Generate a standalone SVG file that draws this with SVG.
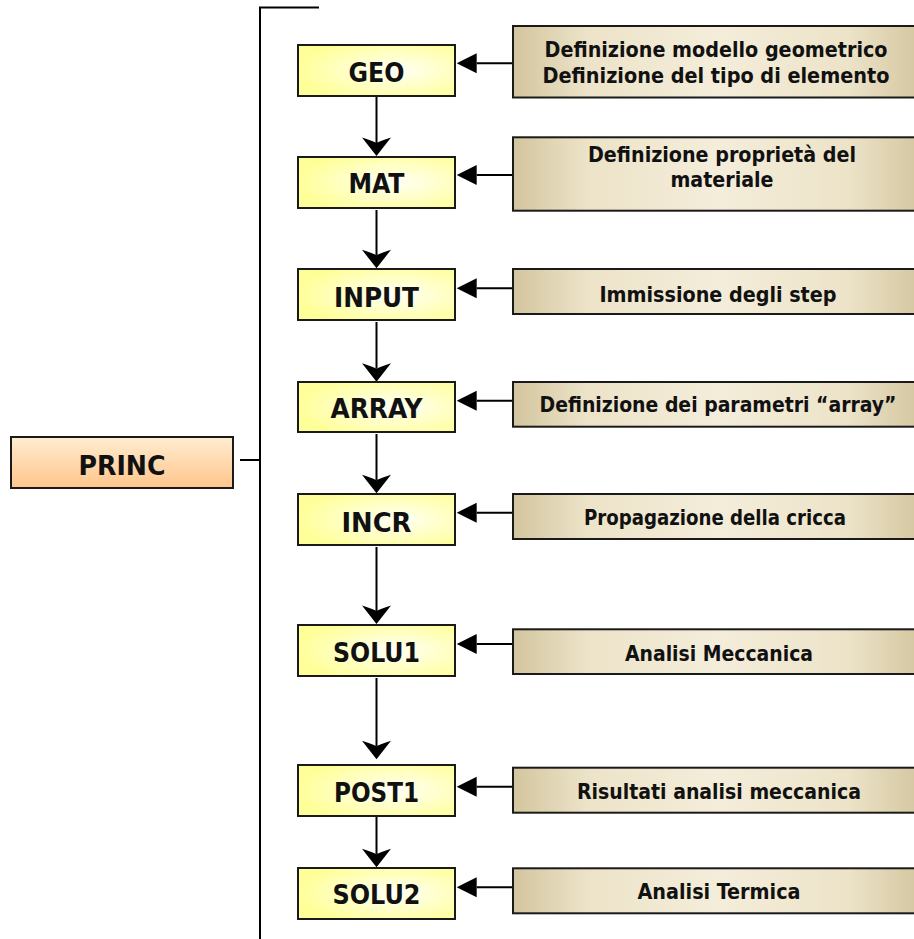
<svg xmlns="http://www.w3.org/2000/svg" width="914" height="939" viewBox="0 0 914 939">
<style>
.lbl{font-family:"DejaVu Sans Condensed","DejaVu Sans",sans-serif;font-weight:bold;font-size:26px;fill:#111;text-anchor:middle}
.desc{font-family:"DejaVu Sans Condensed","DejaVu Sans",sans-serif;font-weight:bold;font-size:21px;fill:#111;text-anchor:middle}
.yb{fill:url(#gy);stroke:#1a1a1a;stroke-width:2}
.bb{fill:url(#gb);stroke:#1a1a1a;stroke-width:2}
.pb{fill:url(#gp);stroke:#1a1a1a;stroke-width:2}
.ln{stroke:#000;stroke-width:2;fill:none}
.dn{stroke:#000;stroke-width:2;fill:none;marker-end:url(#ad)}
.lf{stroke:#000;stroke-width:2;fill:none;marker-end:url(#al)}
</style>
<defs>
<radialGradient id="gy" cx="0.62" cy="0.5" r="0.62">
<stop offset="0" stop-color="#FFFFF6"/>
<stop offset="1" stop-color="#FFFF99"/>
</radialGradient>
<linearGradient id="gb" x1="0" y1="0" x2="1" y2="0">
<stop offset="0" stop-color="#D3C59E"/>
<stop offset="0.18" stop-color="#ECE3C8"/>
<stop offset="0.5" stop-color="#F4EDDA"/>
<stop offset="0.82" stop-color="#ECE3C8"/>
<stop offset="1" stop-color="#D3C59E"/>
</linearGradient>
<linearGradient id="gp" x1="0" y1="0" x2="0" y2="1">
<stop offset="0" stop-color="#FFEDD0"/>
<stop offset="1" stop-color="#FFC58C"/>
</linearGradient>
<marker id="ad" markerUnits="userSpaceOnUse" viewBox="-20 -16 22 32" refX="-13" refY="0" markerWidth="22" markerHeight="32" orient="auto">
<path d="M0,0 L-18.5,-14.5 Q-15,-3 -13,0 Q-15,3 -18.5,14.5 Z" fill="#000"/>
</marker>
<marker id="al" markerUnits="userSpaceOnUse" viewBox="-22 -12 24 24" refX="-20" refY="0" markerWidth="24" markerHeight="24" orient="auto">
<path d="M0,0 L-20,-10 L-20,10 Z" fill="#000"/>
</marker>
</defs>

<g id="connectors">
<path class="ln" d="M319,7.5 H260 V939"/>
<path class="ln" d="M240,460 H260"/>
<path class="dn" d="M376.5,97 V143"/>
<path class="dn" d="M376.5,210 V255.3"/>
<path class="dn" d="M376.5,322 V368.7"/>
<path class="dn" d="M376.5,434 V480.3"/>
<path class="dn" d="M376.5,547 V611"/>
<path class="dn" d="M376.5,678 V746.3"/>
<path class="dn" d="M376.5,816 V854.3"/>
<path class="lf" d="M513,63.3 H476.7"/>
<path class="lf" d="M513,175 H476.7"/>
<path class="lf" d="M513,288.3 H476.7"/>
<path class="lf" d="M513,400.7 H476.7"/>
<path class="lf" d="M513,512.7 H476.7"/>
<path class="lf" d="M513,644 H476.7"/>
<path class="lf" d="M513,786.7 H476.7"/>
<path class="lf" d="M513,887.3 H476.7"/>
</g>

<g id="princ">
<rect class="pb" x="11" y="437" width="222" height="51"/>
<text class="lbl" x="122" y="475" textLength="87" lengthAdjust="spacingAndGlyphs">PRINC</text>
</g>

<g id="geo">
<rect class="yb" x="298" y="45" width="157" height="51"/>
<text class="lbl" x="376.5" y="81.7" textLength="56" lengthAdjust="spacingAndGlyphs">GEO</text>
</g>
<g id="mat">
<rect class="yb" x="298" y="157" width="157" height="51"/>
<text class="lbl" x="376.5" y="193.3" textLength="56" lengthAdjust="spacingAndGlyphs">MAT</text>
</g>
<g id="input">
<rect class="yb" x="298" y="269" width="157" height="51"/>
<text class="lbl" x="376.5" y="306.7" textLength="85" lengthAdjust="spacingAndGlyphs">INPUT</text>
</g>
<g id="array">
<rect class="yb" x="298" y="382" width="157" height="50"/>
<text class="lbl" x="376.5" y="418.3" textLength="92" lengthAdjust="spacingAndGlyphs">ARRAY</text>
</g>
<g id="incr">
<rect class="yb" x="298" y="494" width="157" height="51"/>
<text class="lbl" x="376.5" y="531.7" textLength="70" lengthAdjust="spacingAndGlyphs">INCR</text>
</g>
<g id="solu1">
<rect class="yb" x="298" y="625" width="157" height="51"/>
<text class="lbl" x="376.5" y="662.3" textLength="87" lengthAdjust="spacingAndGlyphs">SOLU1</text>
</g>
<g id="post1">
<rect class="yb" x="298" y="765" width="157" height="51"/>
<text class="lbl" x="376.5" y="802.3" textLength="85" lengthAdjust="spacingAndGlyphs">POST1</text>
</g>
<g id="solu2">
<rect class="yb" x="298" y="868" width="157" height="51"/>
<text class="lbl" x="376.5" y="904" textLength="88" lengthAdjust="spacingAndGlyphs">SOLU2</text>
</g>

<g id="desc-geo">
<rect class="bb" x="513" y="26" width="410" height="71.5"/>
<text class="desc" x="716" y="56.7" textLength="343" lengthAdjust="spacingAndGlyphs">Definizione modello geometrico</text>
<text class="desc" x="716" y="83" textLength="347" lengthAdjust="spacingAndGlyphs">Definizione del tipo di elemento</text>
</g>
<g id="desc-mat">
<rect class="bb" x="513" y="137.3" width="410" height="73.4"/>
<text class="desc" x="722" y="161.7" textLength="268" lengthAdjust="spacingAndGlyphs">Definizione proprietà del</text>
<text class="desc" x="722" y="186.7" textLength="103" lengthAdjust="spacingAndGlyphs">materiale</text>
</g>
<g id="desc-input">
<rect class="bb" x="513" y="269" width="410" height="45"/>
<text class="desc" x="718" y="301.7" textLength="237" lengthAdjust="spacingAndGlyphs">Immissione degli step</text>
</g>
<g id="desc-array">
<rect class="bb" x="513" y="382" width="410" height="44.7"/>
<text class="desc" x="718" y="412" textLength="357" lengthAdjust="spacingAndGlyphs">Definizione dei parametri “array”</text>
</g>
<g id="desc-incr">
<rect class="bb" x="513" y="494" width="410" height="45"/>
<text class="desc" x="715" y="525" textLength="262" lengthAdjust="spacingAndGlyphs">Propagazione della cricca</text>
</g>
<g id="desc-solu1">
<rect class="bb" x="513" y="629.3" width="410" height="44.7"/>
<text class="desc" x="719" y="661" textLength="188" lengthAdjust="spacingAndGlyphs">Analisi Meccanica</text>
</g>
<g id="desc-post1">
<rect class="bb" x="513" y="767.7" width="410" height="45"/>
<text class="desc" x="719" y="799.3" textLength="284" lengthAdjust="spacingAndGlyphs">Risultati analisi meccanica</text>
</g>
<g id="desc-solu2">
<rect class="bb" x="513" y="868.3" width="410" height="45"/>
<text class="desc" x="719" y="899.3" textLength="163" lengthAdjust="spacingAndGlyphs">Analisi Termica</text>
</g>
</svg>
